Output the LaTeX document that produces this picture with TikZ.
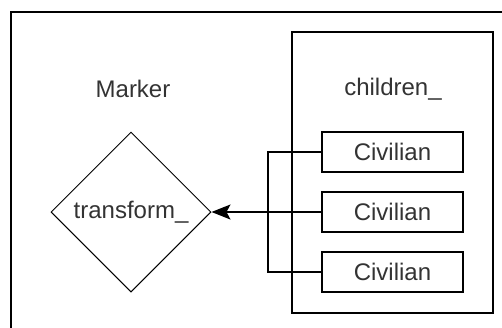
\documentclass[tikz,border=0pt]{standalone}
\usepackage{fontspec}
\setmainfont{Liberation Sans}
\usetikzlibrary{shapes.geometric,arrows.meta}
\definecolor{txtgray}{RGB}{51,51,51}
\begin{document}
\begin{tikzpicture}[x=1pt, y=-1pt,
        every node/.style={font=\fontsize{24}{28}\selectfont, text=txtgray},
        civbox/.style={draw, line width=1.5pt, minimum width=141pt, minimum height=40pt, inner sep=0pt},
        wire/.style={line width=1.2pt}]
        \clip (0, 0) rectangle (502, 327);
        \draw[line width=1.6pt] (11, 12) rectangle (530, 350);
        \node[draw, line width=1.5pt, minimum width=201pt, minimum height=281pt] (children) at (392.5, 172.5) {};
        \node[align=center] (marker-label) at (133, 89) {Marker};
        \node[align=center] (children-label) at (393, 89) {children\_};
        \node[draw, diamond, aspect=1, line width=1pt, minimum width=160pt, minimum height=160pt, inner sep=0pt] (transform) at (131, 212) {transform\_};
        \node[civbox] (civilian1) at (392.5, 152) {Civilian};
        \node[civbox] (civilian2) at (392.5, 212) {Civilian};
        \node[civbox] (civilian3) at (392.5, 272) {Civilian};
        \coordinate (bus) at (268, 212);
        \draw[wire] (civilian1.west) -| (bus);
        \draw[wire] (civilian3.west) -| (bus);
        \draw[wire, -{Stealth[length=19pt, width=15pt, inset=4pt]}] (civilian2.west) -- (transform.east);
    \end{tikzpicture}
\end{document}
